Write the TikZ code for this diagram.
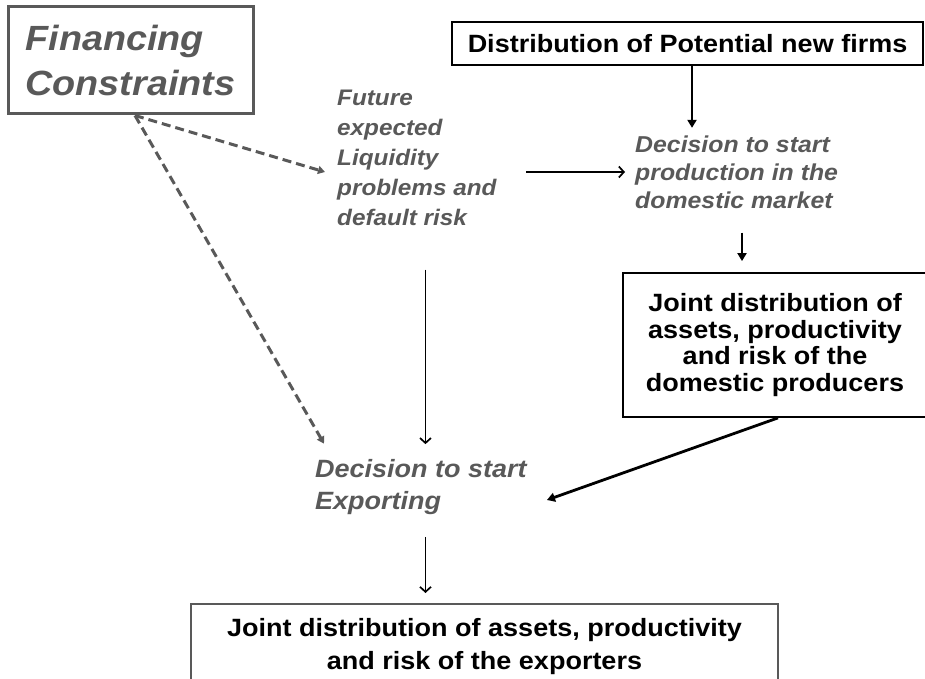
\documentclass[tikz,border=0pt]{standalone}
\usepackage{fontspec}
\setmainfont{Liberation Sans}[FakeStretch=1.08]
\usepackage{tikz}
\usetikzlibrary{arrows.meta,calc}
\definecolor{constraintgray}{RGB}{89,89,89}

\begin{document}
\begin{tikzpicture}[x=1pt,y=-1pt,
    distbox/.style={draw=black,line width=1.8pt,inner sep=0pt,align=center,font=\bfseries\fontsize{25}{26.7}\selectfont},
    decision/.style={text=constraintgray,align=left,inner sep=0pt,anchor=west},
    flow/.style={line width=1.7pt,-{Straight Barb[length=5pt,width=11pt]}},
    heavyflow/.style={line width=2.8pt,-{Triangle[length=8pt,width=9pt]}},
    linkdash/.style={constraintgray,line width=3pt,dash pattern=on 9pt off 5pt,-{Triangle[length=7pt,width=8pt]}}]
    \useasboundingbox (0,0) rectangle (925,679);

    % Constraints box
    \node[draw=constraintgray, line width=3pt, minimum width=245, minimum height=107, inner sep=0pt,
          text=constraintgray, align=left, font=\bfseries\itshape\fontsize{35}{45}\selectfont]
          (fin) at (130.5,60.5) {Financing\\Constraints};

    % Decisions
    \node[decision, font=\bfseries\itshape\fontsize{22.5}{30}\selectfont] (future) at (337,157.5)
          {Future\\expected\\Liquidity\\problems and\\default risk};
    \node[decision, font=\bfseries\itshape\fontsize{23}{28}\selectfont] (domdec) at (635,172)
          {Decision to start\\production in the\\domestic market};
    \node[decision, font=\bfseries\itshape\fontsize{25}{32}\selectfont] (expdec) at (315,487)
          {Decision to start\\Exporting};

    % Distributions
    \node[distbox, minimum width=471, minimum height=43] (dist) at (687.5,43.5)
          {Distribution of Potential new firms};
    \node[distbox, minimum width=304, minimum height=144] (dombox) at (775,345)
          {Joint distribution of\\assets, productivity\\and risk of the\\domestic producers};
    \node[distbox, draw=constraintgray, anchor=north, minimum width=587, inner ysep=14pt,
          font=\bfseries\fontsize{25}{33}\selectfont] (expbox) at (484.5,603)
          {Joint distribution of assets, productivity\\and risk of the exporters};

    % Arrows
    \draw[heavyflow, shorten >=7.5pt] ([xshift=4.5pt]dist.south) -- ([xshift=4.5pt]dist.south |- domdec.north);
    \draw[flow, shorten <=29.5pt, shorten >=10pt] (future.east |- domdec.west) -- (domdec.west);
    \draw[heavyflow, shorten <=24pt, shorten >=11pt] ([xshift=-33pt]dombox.north |- domdec.south) -- ([xshift=-33pt]dombox.north);
    \draw[flow, shorten <=44pt, shorten >=15pt] ([xshift=4.5pt]expdec.north |- future.south) -- ([xshift=4.5pt]expdec.north);
    \draw[heavyflow] ([xshift=3pt]dombox.south) -- ([xshift=20pt,yshift=-13pt]expdec.east);
    \draw[flow, shorten <=22pt, shorten >=10pt] ([xshift=4.5pt]expdec.south) -- ([xshift=4.5pt]expdec.south |- expbox.north);

    % Dashed links
    \draw[linkdash] ([xshift=4.5pt]fin.south) -- ([xshift=-12pt,yshift=-14.5pt]future.west);
    \draw[linkdash] ([xshift=4.5pt]fin.south) -- ([xshift=9pt,yshift=15.5pt]expdec.north west);
\end{tikzpicture}
\end{document}
